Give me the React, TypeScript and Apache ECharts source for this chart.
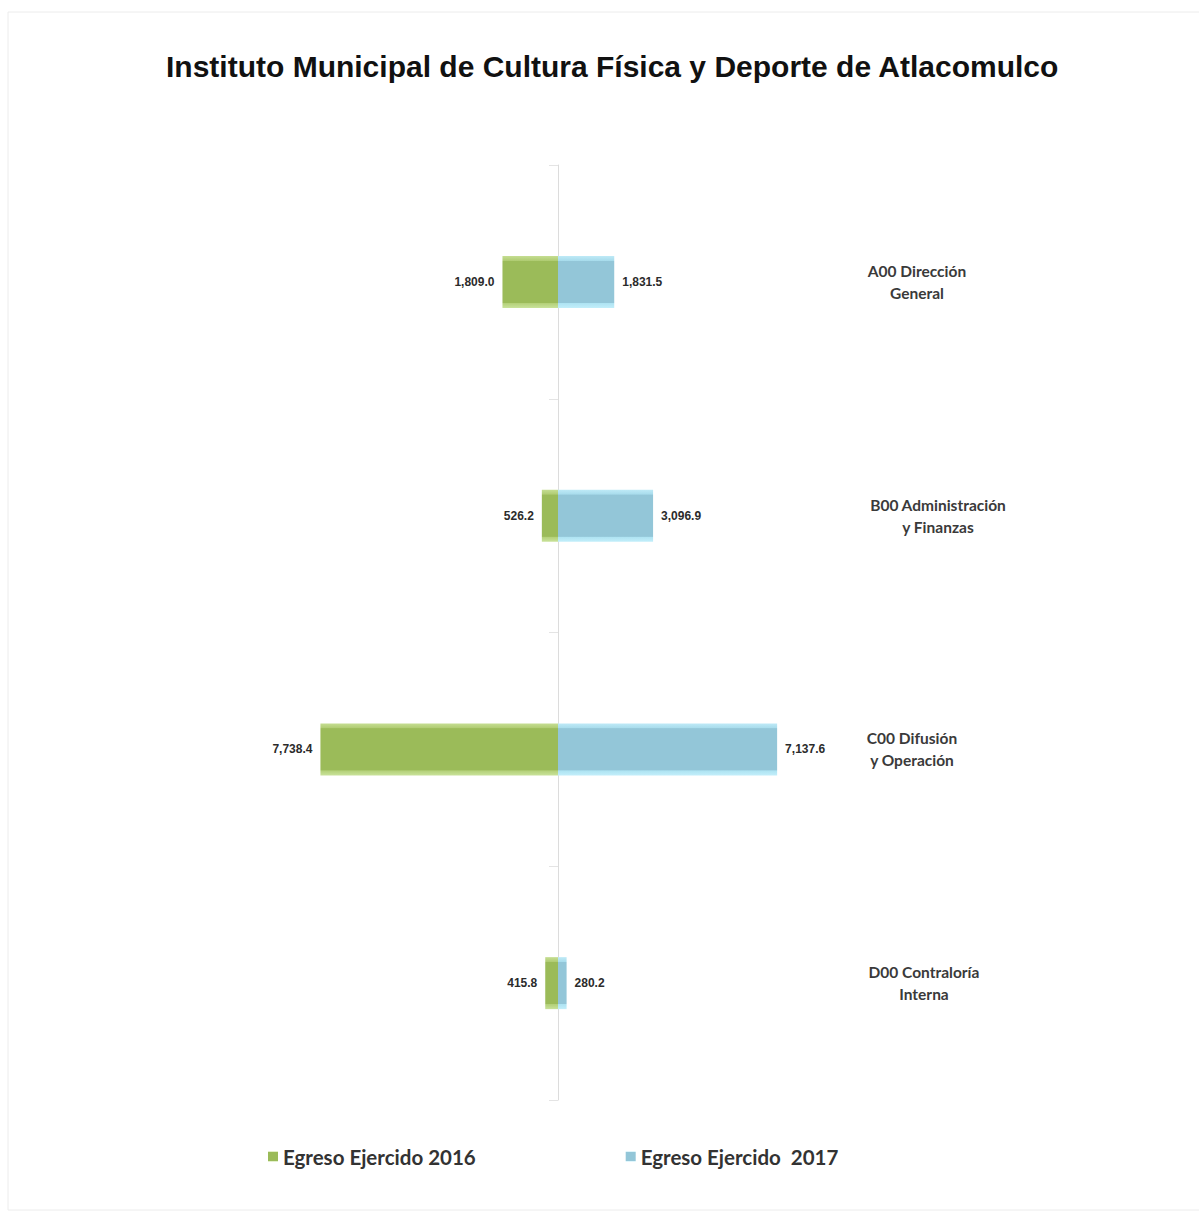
import React, { useEffect, useRef } from "react";
import * as echarts from "echarts";

const categories = [
  "A00 Dirección\nGeneral",
  "B00 Administración\ny Finanzas",
  "C00 Difusión\ny Operación",
  "D00 Contraloría\nInterna",
];
const labelWidths = [100, 142, 90, 114];
const egreso2016 = [1809.0, 526.2, 7738.4, 415.8];
const egreso2017 = [1831.5, 3096.9, 7137.6, 280.2];
const seriesNames = ["Egreso Ejercido 2016", "Egreso Ejercido  2017"];
const titleText = "Instituto Municipal de Cultura Física y Deporte de Atlacomulco";

const fmt = (v: number) =>
  Math.abs(v).toLocaleString("en-US", { minimumFractionDigits: 1, maximumFractionDigits: 1 });

export default function App() {
  const ref = useRef<HTMLDivElement>(null);
  useEffect(() => {
    document.body.style.margin = "0";
    const chart = echarts.init(ref.current!, undefined, { renderer: "svg" });
    const rich: any = {};
    labelWidths.forEach((w, i) => {
      rich["c" + i] = {
        width: w,
        align: "center",
        fontFamily: "Lato",
        fontWeight: "bold",
        fontSize: 15.5,
        color: "#3a3a3a",
        lineHeight: 22,
      };
    });
    const green = new echarts.graphic.LinearGradient(0, 0, 0, 1, [
      { offset: 0, color: "#c6de93" },
      { offset: 0.09, color: "#b0cc73" },
      { offset: 0.1, color: "#9bbb59" },
      { offset: 0.9, color: "#9bbb59" },
      { offset: 0.91, color: "#b3d078" },
      { offset: 1, color: "#c9e29a" },
    ]);
    const blue = new echarts.graphic.LinearGradient(0, 0, 0, 1, [
      { offset: 0, color: "#bfeaf7" },
      { offset: 0.09, color: "#a8dcec" },
      { offset: 0.1, color: "#93c6d8" },
      { offset: 0.9, color: "#93c6d8" },
      { offset: 0.91, color: "#aee3f2" },
      { offset: 1, color: "#c2eefa" },
    ]);
    const dataLabel = {
      show: true,
      distance: 8,
      formatter: (p: any) => fmt(p.value),
      fontFamily: "Liberation Sans",
      fontSize: 12,
      fontWeight: "bold",
      color: "#2b2b2b",
    };
    chart.setOption({
      animation: false,
      backgroundColor: "#ffffff",
      title: {
        text: titleText,
        left: 161,
        top: 46,
        textStyle: {
          fontFamily: "Liberation Sans",
          fontWeight: "bold",
          fontSize: 30,
          color: "#111111",
        },
      },
      graphic: [
        {
          type: "rect",
          shape: { x: 8, y: 12, width: 1200, height: 1198 },
          style: { fill: "none", stroke: "#ececec", lineWidth: 1 },
          silent: true,
        },
      ],
      legend: {
        left: 263,
        top: 1141,
        itemGap: 150,
        itemWidth: 10,
        itemHeight: 10,
        icon: "rect",
        textStyle: {
          fontFamily: "Lato",
          fontWeight: "bold",
          fontSize: 20.5,
          color: "#333333",
        },
        data: seriesNames,
      },
      grid: { left: 251, width: 614, top: 165, height: 935 },
      xAxis: {
        type: "value",
        min: -10000,
        max: 10000,
        show: false,
      },
      yAxis: [
        {
          type: "category",
          data: categories,
          inverse: true,
          axisLine: { show: true, onZero: true, lineStyle: { color: "#dcdcdc", width: 1 } },
          axisTick: { show: true, length: 9, lineStyle: { color: "#e4e4e4" } },
          axisLabel: { show: false },
        },
        {
          type: "category",
          data: categories,
          inverse: true,
          position: "right",
          axisLine: { show: false },
          axisTick: { show: false },
          axisLabel: {
            show: true,
            margin: 2,
            align: "left",
            formatter: (v: string) => {
              const i = categories.indexOf(v);
              return v
                .split("\n")
                .map((s) => `{c${i}|${s}}`)
                .join("\n");
            },
            rich,
          },
        },
      ],
      series: [
        {
          name: seriesNames[0],
          type: "bar",
          stack: "total",
          yAxisIndex: 0,
          barWidth: 52,
          data: egreso2016.map((v) => -v),
          itemStyle: { color: green },
          label: { ...dataLabel, position: "left" },
        },
        {
          name: seriesNames[1],
          type: "bar",
          stack: "total",
          yAxisIndex: 0,
          barWidth: 52,
          data: egreso2017,
          itemStyle: { color: blue },
          label: { ...dataLabel, position: "right" },
        },
      ],
    });
    return () => chart.dispose();
  }, []);
  return <div ref={ref} style={{ width: 1199, height: 1213 }} />;
}
